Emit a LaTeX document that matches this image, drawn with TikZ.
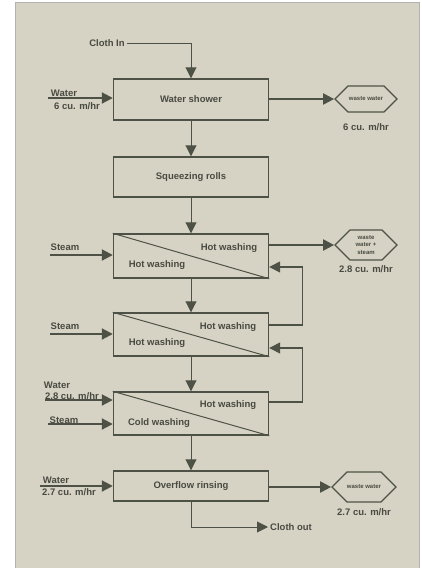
\documentclass[tikz,border=0pt]{standalone}
\usepackage{fontspec}
\setmainfont{Liberation Sans}
\usetikzlibrary{arrows.meta,shapes.symbols}
\definecolor{paper}{RGB}{215,211,196}
\definecolor{ink}{RGB}{78,82,70}
\definecolor{txt}{RGB}{72,74,66}

\begin{document}
\begin{tikzpicture}[x=1pt,y=-1pt,
        every node/.style={font=\fontsize{9.5}{11}\selectfont\bfseries,text=txt,inner sep=2pt},
        unit/.style={draw=ink,line width=1.4pt,minimum width=155pt,inner sep=0pt},
        waste/.style={draw=ink,line width=1.2pt,signal,signal to=east and west,minimum width=62pt,
          inner sep=0pt,font=\fontsize{6}{7.5}\selectfont\bfseries,align=center},
        flow/.style={draw=ink,line width=0.9pt,-{Triangle[length=11pt,width=11pt]}},
        feed/.style={flow,line width=1.3pt},
        stream/.style={flow,line width=2pt}]
        \useasboundingbox (0,0) rectangle (422,568);
        \fill[white] (0,0) rectangle (422,568);
        \fill[paper] (15,2) rectangle (419,568);
        \draw[gray!60,line width=1pt] (15,568) -- (15,2) -- (419,2) -- (419,568);
        % process units
        \node[unit,minimum height=41pt] (shower) at (191,99.5) {Water shower};
        \node[unit,minimum height=40pt] (rolls) at (191,177) {Squeezing rolls};
        \node[unit,minimum height=44pt] (hot1) at (191,256) {};
        \node[unit,minimum height=43pt] (hot2) at (191,334.5) {};
        \node[unit,minimum height=43pt] (cold) at (191,413.5) {};
        \node[unit,minimum height=30pt] (rinse) at (191,486) {Overflow rinsing};
        \draw[ink,line width=1pt] (hot1.north west) -- (hot1.south east);
        \draw[ink,line width=1pt] (hot2.north west) -- (hot2.south east);
        \draw[ink,line width=1pt] (cold.north west) -- (cold.south east);
        \node (hot1a) at (229,248) {Hot washing};
        \node (hot1b) at (157,265) {Hot washing};
        \node (hot2a) at (228,327) {Hot washing};
        \node (hot2b) at (157,343) {Hot washing};
        \node (colda) at (228,405) {Hot washing};
        \node (coldb) at (159,423) {Cold washing};
        % waste outlets
        \node[waste,minimum height=26pt] (ww1) at (366,99) {waste water};
        \node[waste,minimum height=30pt] (ww2) at (366,245) {waste\\water +\\steam};
        \node[waste,minimum height=30pt] (ww3) at (364,487) {waste water};
        \node (ww1q) at (366,127) {6 cu. m/hr};
        \node (ww2q) at (366,269) {2.8 cu. m/hr};
        \node (ww3q) at (364,512) {2.7 cu. m/hr};
        % inputs
        \node (clothin) at (107,43) {Cloth In};
        \node (w1) at (64,93) {Water};
        \node (w1q) at (77,106) {6 cu. m/hr};
        \node (s1) at (65,247) {Steam};
        \node (s2) at (65,326) {Steam};
        \node (w2) at (57,385) {Water};
        \node (w2q) at (72,396) {2.8 cu. m/hr};
        \node (s3) at (64,420) {Steam};
        \node (w3) at (56,480) {Water};
        \node (w3q) at (69,492) {2.7 cu. m/hr};
        \node[anchor=west] (clothout) at (268,527) {Cloth out};
        \coordinate (w1in) at (48,98);
        \coordinate (s1in) at (50,255);
        \coordinate (s2in) at (50,334);
        \coordinate (w2in) at (45,400);
        \coordinate (s3in) at (48,424);
        \coordinate (w3in) at (40,486);
        % connectors
        \draw[flow] (clothin.east) -| (shower.north);
        \draw[flow] (shower.south) -- (rolls.north);
        \draw[flow] (rolls.south) -- (hot1.north);
        \draw[flow] (hot1.south) -- (hot2.north);
        \draw[flow] (hot2.south) -- (cold.north);
        \draw[flow] (cold.south) -- (rinse.north);
        \draw[flow] (rinse.south) |- (clothout.west);
        \draw[stream] (w1in) -- (w1in -| shower.west);
        \draw[stream] (s1in) -- (s1in -| hot1.west);
        \draw[stream] (s2in) -- (s2in -| hot2.west);
        \draw[stream] (w2in) -- (w2in -| cold.west);
        \draw[stream] (s3in) -- (s3in -| cold.west);
        \draw[stream] (w3in) -- (w3in -| rinse.west);
        \draw[stream] (shower.east |- ww1.west) -- (ww1.west);
        \draw[stream] (hot1.east |- ww2.west) -- (ww2.west);
        \draw[stream] (rinse.east |- ww3.west) -- (ww3.west);
        \draw[feed] ([yshift=9.5pt]hot2.east) -- ++(33,0) |- ([yshift=-11pt]hot1.east);
        \draw[feed] ([yshift=11.5pt]cold.east) -- ++(33,0) |- ([yshift=-13.5pt]hot2.east);
      \end{tikzpicture}
\end{document}
